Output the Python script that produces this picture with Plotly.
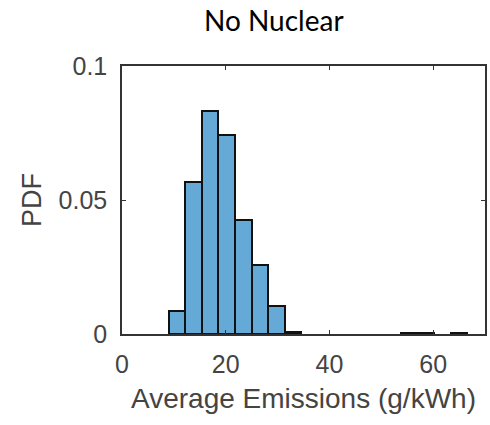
import plotly.graph_objects as go

# Histogram of average emissions (normalised as a PDF), no-nuclear scenario
bin_width = 3.2
bin_starts = [9.0, 12.2, 15.4, 18.6, 21.8, 25.0, 28.2, 31.4, 53.8, 57.0, 63.4]
pdf_values = [0.0086, 0.0568, 0.0833, 0.0744, 0.0426, 0.0258, 0.0106, 0.0006, 0.0005, 0.0005, 0.0005]

x_ticks = [0, 20, 40, 60]
y_ticks = [0, 0.05, 0.1]
y_tick_text = ["0", "0.05", "0.1"]

centers = [s + bin_width / 2 for s in bin_starts]

fig = go.Figure(
    go.Bar(
        x=centers,
        y=pdf_values,
        width=[bin_width] * len(centers),
        marker=dict(color="#65A9D7", line=dict(color="#111111", width=2)),
        hoverinfo="x+y",
    )
)

axis_color = "#333333"
text_color = "#444444"
tick_font = dict(family="Liberation Sans, Arial, sans-serif", size=25, color=text_color)

fig.update_layout(
    width=490,
    height=425,
    margin=dict(l=122, r=3, t=66, b=91),
    paper_bgcolor="white",
    plot_bgcolor="white",
    showlegend=False,
    bargap=0,
    annotations=[
        dict(
            text="No Nuclear",
            xref="paper", yref="paper",
            x=0.419, y=1.0, yshift=46,
            xanchor="center", yanchor="middle",
            showarrow=False,
            font=dict(family="Lato, Open Sans, sans-serif", size=28, color="black"),
        )
    ],
)

fig.update_xaxes(
    range=[0, 70],
    tickvals=x_ticks,
    ticks="inside",
    ticklen=4,
    tickcolor=axis_color,
    tickwidth=1,
    ticklabelstandoff=7,
    showline=True,
    linecolor=axis_color,
    linewidth=1.5,
    mirror="ticks",
    showgrid=False,
    zeroline=False,
    tickfont=tick_font,
    title=dict(text="Average Emissions (g/kWh)", font=dict(family="Liberation Sans, Arial, sans-serif", size=28, color=text_color), standoff=12),
)

fig.update_yaxes(
    range=[0, 0.1],
    tickvals=y_ticks,
    ticktext=y_tick_text,
    ticks="inside",
    ticklen=4,
    tickcolor=axis_color,
    tickwidth=1,
    ticklabelstandoff=8,
    showline=True,
    linecolor=axis_color,
    linewidth=1.5,
    mirror="ticks",
    showgrid=False,
    zeroline=False,
    tickfont=tick_font,
    title=dict(text="PDF", font=dict(family="Liberation Sans, Arial, sans-serif", size=27, color=text_color), standoff=9),
)

fig.write_html("out.html")
